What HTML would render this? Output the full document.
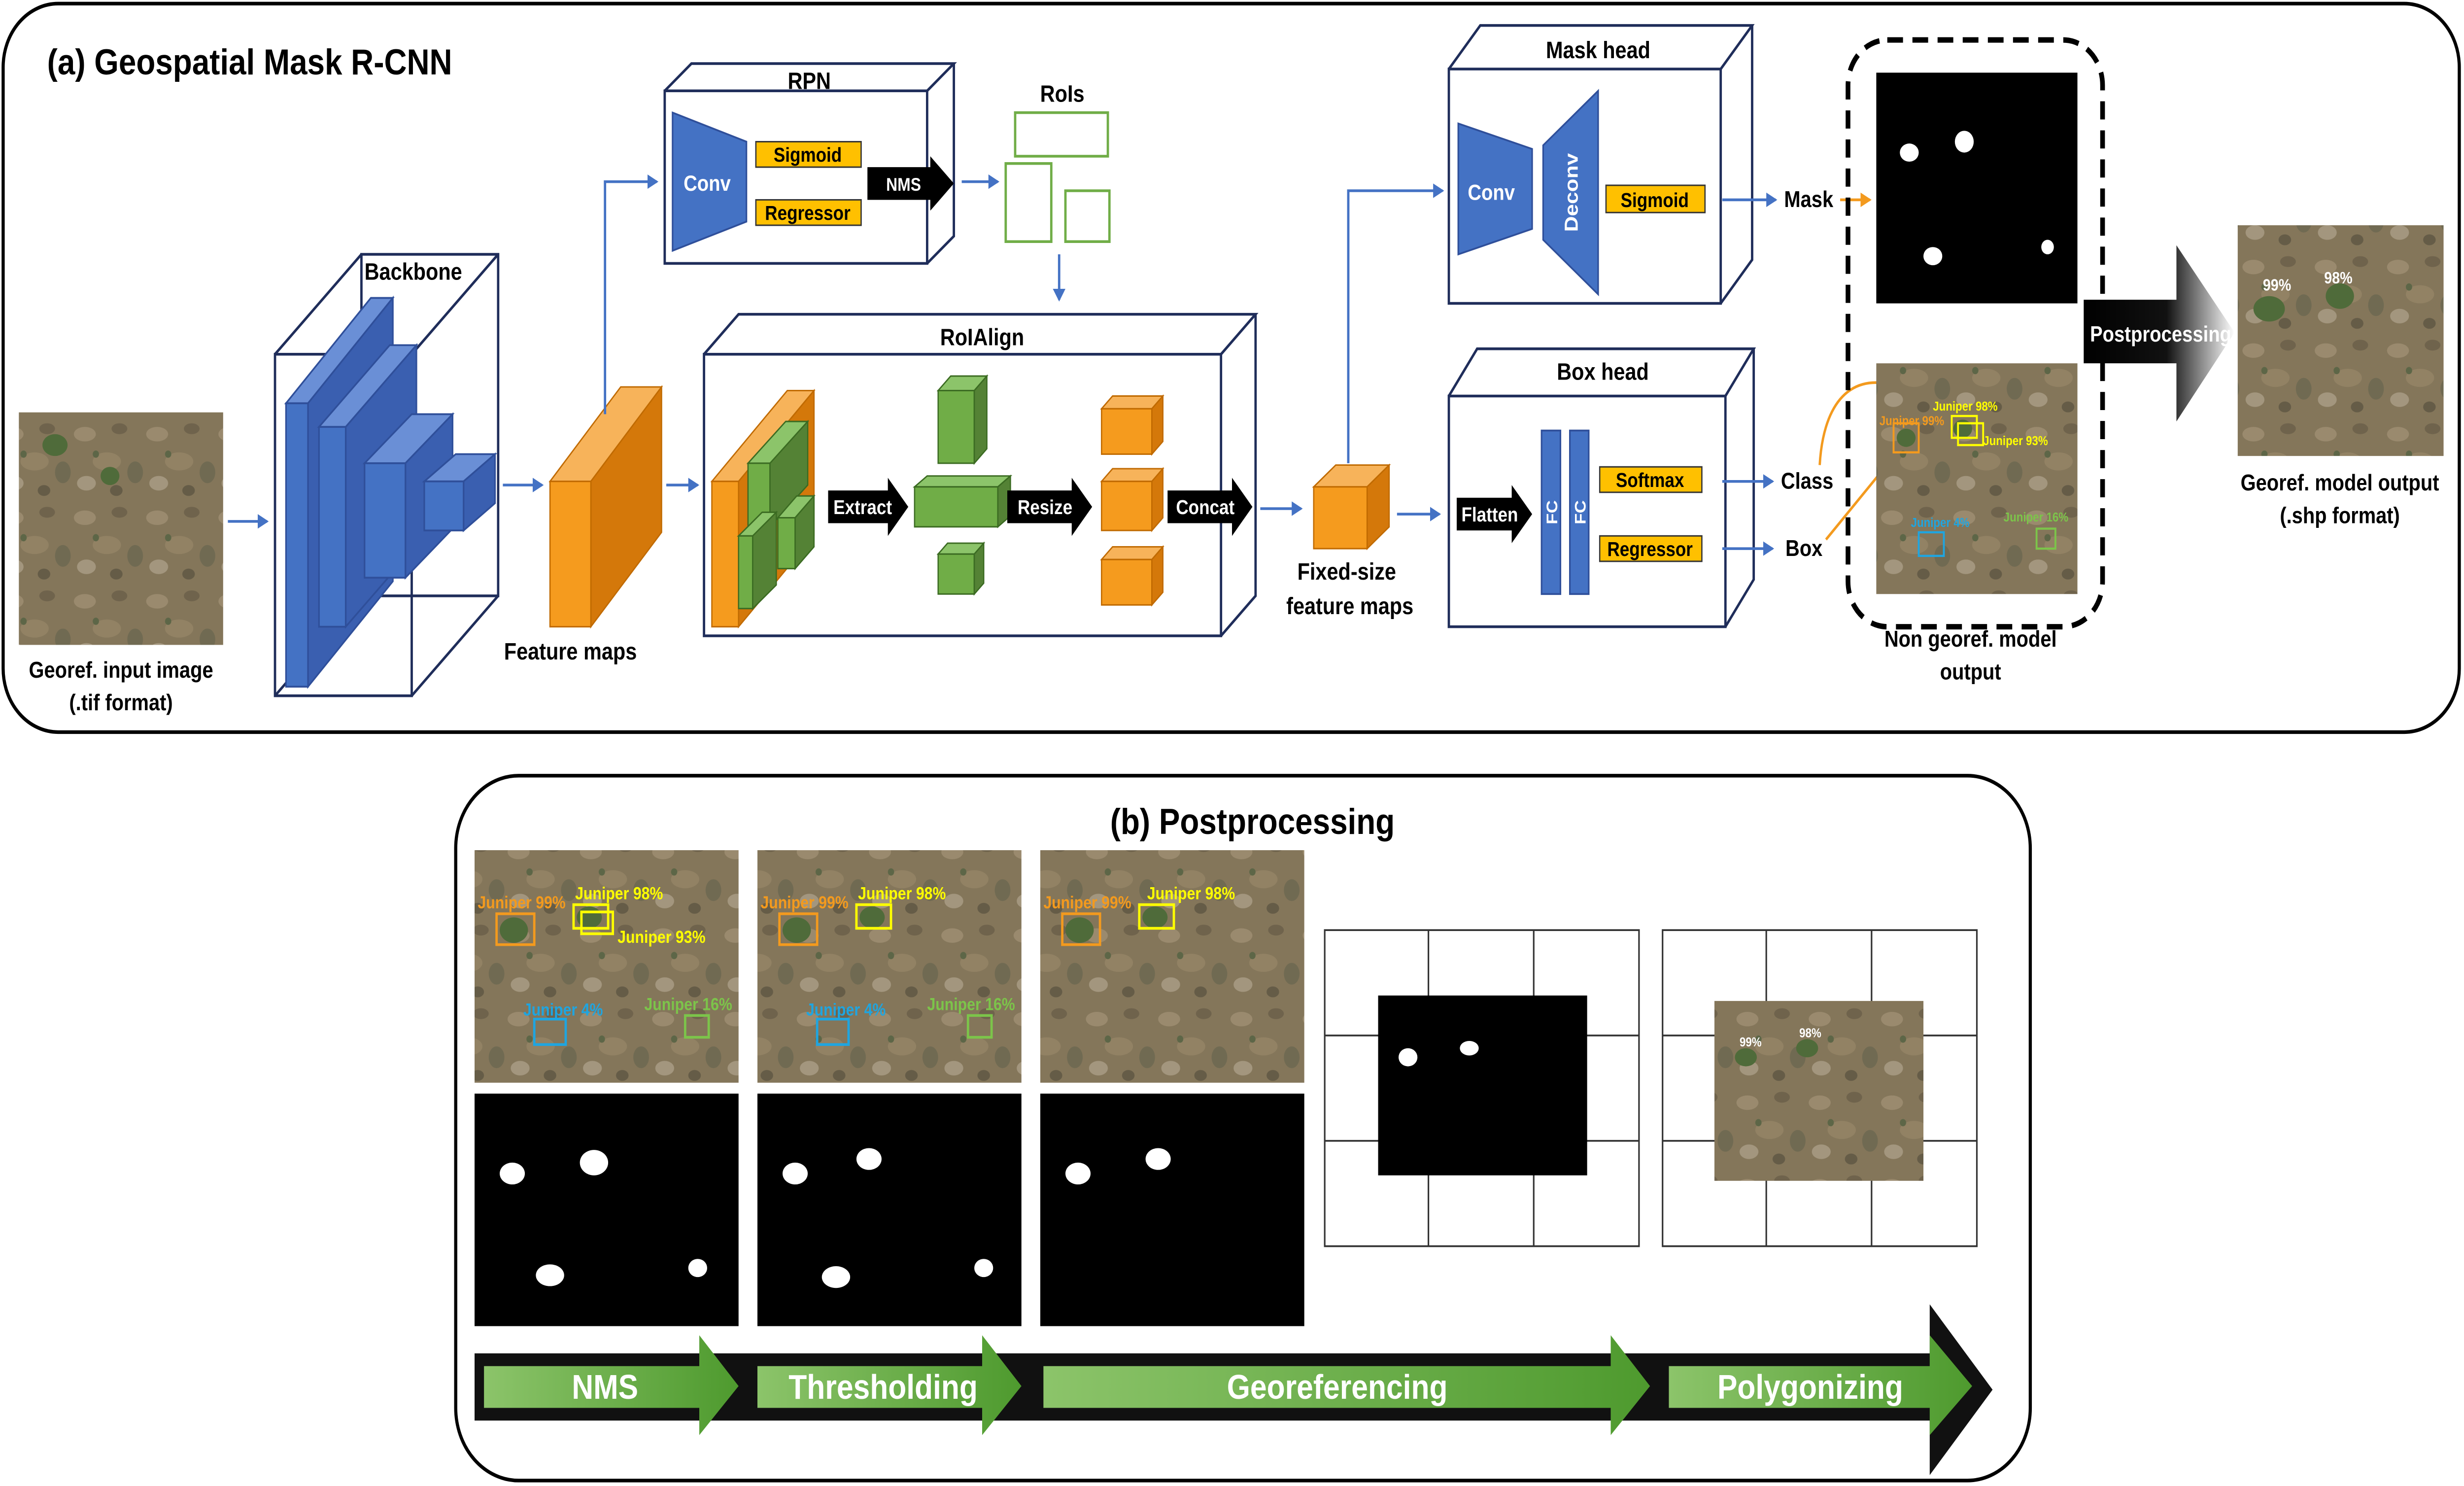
<!DOCTYPE html>
<html><head><meta charset="utf-8"><style>
html,body{margin:0;padding:0;background:#fff;width:100%;height:100%;overflow:hidden;}
svg{display:block;width:100vw;height:100vh;}
text{font-family:"Liberation Sans",sans-serif;font-weight:bold;}
</style></head><body>
<svg viewBox="0 0 1568 818" preserveAspectRatio="none" xmlns="http://www.w3.org/2000/svg">
<defs>
<pattern id="sat" width="46" height="46" patternUnits="userSpaceOnUse">
<rect width="46" height="46" fill="#84765a"/>
<ellipse cx="8" cy="9" rx="7" ry="4" fill="#9a8a6e"/>
<ellipse cx="30" cy="6" rx="5" ry="3" fill="#6f634c"/>
<ellipse cx="22" cy="24" rx="9" ry="5" fill="#928264"/>
<ellipse cx="40" cy="30" rx="5" ry="6" fill="#706a52"/>
<ellipse cx="9" cy="36" rx="6" ry="4" fill="#a3967e"/>
<ellipse cx="28" cy="40" rx="4" ry="3" fill="#655c47"/>
<circle cx="15" cy="20" r="2" fill="#5d6647"/>
</pattern>
<marker id="ab" markerWidth="8" markerHeight="8" refX="6" refY="4" orient="auto" markerUnits="userSpaceOnUse"><path d="M0,0 L7,4 L0,8 z" fill="#4472C4"/></marker>
<marker id="ao" markerWidth="8" markerHeight="8" refX="6" refY="4" orient="auto" markerUnits="userSpaceOnUse"><path d="M0,0 L7,4 L0,8 z" fill="#F39A1E"/></marker>
<linearGradient id="pg" x1="0" x2="1" y1="0" y2="0"><stop offset="0" stop-color="#000"/><stop offset="0.55" stop-color="#111"/><stop offset="1" stop-color="#fff"/></linearGradient>
<linearGradient id="gg" x1="0" x2="1"><stop offset="0" stop-color="#8cc46a"/><stop offset="1" stop-color="#4e9a2e"/></linearGradient>
</defs>

<rect x="2" y="2" width="1563" height="401" rx="35" fill="none" stroke="#000" stroke-width="2"/>
<text x="30" y="41" font-size="20">(a)  Geospatial Mask R-CNN</text>

<rect x="12" y="227" width="130" height="128" fill="url(#sat)"/>
<ellipse cx="70" cy="262" rx="6" ry="5" fill="#4f6b3a"/><ellipse cx="35" cy="245" rx="8" ry="6" fill="#4f6b3a"/>
<text x="77" y="373" font-size="12.5" text-anchor="middle">Georef. input image</text>
<text x="77" y="391" font-size="12.5" text-anchor="middle">(.tif format)</text>
<line x1="145" y1="287" x2="170" y2="287" stroke="#4472C4" stroke-width="1.5" marker-end="url(#ab)"/>

<g fill="none" stroke="#1F2D5A" stroke-width="1.5">
<rect x="175" y="195" width="87" height="188"/><rect x="230" y="140" width="87" height="188"/>
<line x1="175" y1="195" x2="230" y2="140"/><line x1="262" y1="195" x2="317" y2="140"/><line x1="262" y1="383" x2="317" y2="328"/><line x1="175" y1="383" x2="230" y2="328"/>
</g>
<g stroke="#2F4F9A" stroke-width="1">
<polygon points="182,222 236,164 250,164 196,222" fill="#6A8FD6"/><polygon points="196,222 250,164 250,320 196,378" fill="#3A5FB0"/><rect x="182" y="222" width="14" height="156" fill="#4472C4"/>
<polygon points="203,235 248,190 265,190 220,235" fill="#6A8FD6"/><polygon points="220,235 265,190 265,300 220,345" fill="#3A5FB0"/><rect x="203" y="235" width="17" height="110" fill="#4472C4"/>
<polygon points="232,255 262,228 288,228 258,255" fill="#6A8FD6"/><polygon points="258,255 288,228 288,291 258,318" fill="#3A5FB0"/><rect x="232" y="255" width="26" height="63" fill="#4472C4"/>
<polygon points="270,265 290,250 315,250 295,265" fill="#6A8FD6"/><polygon points="295,265 315,250 315,277 295,292" fill="#3A5FB0"/><rect x="270" y="265" width="25" height="27" fill="#4472C4"/>
</g>
<text x="263" y="154" font-size="13" text-anchor="middle">Backbone</text>
<line x1="320" y1="267" x2="345" y2="267" stroke="#4472C4" stroke-width="1.5" marker-end="url(#ab)"/>

<polygon points="350,265 395,213 421,213 376,265" fill="#F7B35A" stroke="#C06A00" stroke-width="0.8"/>
<polygon points="376,265 421,213 421,293 376,345" fill="#D4780A" stroke="#C06A00" stroke-width="0.8"/>
<rect x="350" y="265" width="26" height="80" fill="#F59B1E" stroke="#C06A00" stroke-width="0.8"/>
<text x="363" y="363" font-size="13" text-anchor="middle">Feature maps</text>
<polyline points="385,228 385,100 418,100" fill="none" stroke="#4472C4" stroke-width="1.5" marker-end="url(#ab)"/>
<line x1="424" y1="267" x2="444" y2="267" stroke="#4472C4" stroke-width="1.5" marker-end="url(#ab)"/>

<g fill="none" stroke="#1F2D5A" stroke-width="1.5">
<rect x="423" y="50" width="167" height="95" fill="#fff"/>
<polyline points="423,50 440,35 607,35 590,50"/><polyline points="607,35 607,130 590,145"/>
</g>
<text x="515" y="49" font-size="13" text-anchor="middle">RPN</text>
<polygon points="428,62 475,78 475,122 428,138" fill="#4472C4" stroke="#2F4F9A"/>
<text x="450" y="105" font-size="12" fill="#fff" text-anchor="middle">Conv</text>
<rect x="481" y="78" width="67" height="14" fill="#FFC000" stroke="#333" stroke-width="0.8"/><text x="514" y="89" font-size="11" text-anchor="middle">Sigmoid</text>
<rect x="481" y="110" width="67" height="14" fill="#FFC000" stroke="#333" stroke-width="0.8"/><text x="514" y="121" font-size="11" text-anchor="middle">Regressor</text>
<polygon points="552,92 592,92 592,86 607,101 592,116 592,110 552,110" fill="#000"/><text x="575" y="105" font-size="10" fill="#fff" text-anchor="middle">NMS</text>
<line x1="612" y1="100" x2="635" y2="100" stroke="#4472C4" stroke-width="1.5" marker-end="url(#ab)"/>
<text x="676" y="56" font-size="13" text-anchor="middle">RoIs</text>
<g fill="none" stroke="#70AD47" stroke-width="1.5"><rect x="646" y="62" width="59" height="24"/><rect x="640" y="90" width="29" height="43"/><rect x="678" y="105" width="28" height="28"/></g>
<line x1="674" y1="140" x2="674" y2="165" stroke="#4472C4" stroke-width="1.5" marker-end="url(#ab)"/>

<g fill="none" stroke="#1F2D5A" stroke-width="1.5">
<rect x="448" y="195" width="329" height="155"/>
<polyline points="448,195 470,173 799,173 777,195"/><polyline points="799,173 799,328 777,350"/>
</g>
<text x="625" y="190" font-size="13" text-anchor="middle">RoIAlign</text>
<polygon points="453,265 501,215 518,215 470,265" fill="#F7B35A" stroke="#C06A00" stroke-width="0.8"/>
<polygon points="470,265 518,215 518,295 470,345" fill="#D4780A" stroke="#C06A00" stroke-width="0.8"/>
<rect x="453" y="265" width="17" height="80" fill="#F59B1E" stroke="#C06A00" stroke-width="0.8"/>
<g stroke="#3b6b22" stroke-width="0.8">
<polygon points="476,255 500,232 514,232 490,255" fill="#8cc46a"/><rect x="476" y="255" width="14" height="35" fill="#70AD47"/><polygon points="490,255 514,232 514,267 490,290" fill="#548235"/>
<polygon points="470,295 485,282 494,282 479,295" fill="#8cc46a"/><rect x="470" y="295" width="9" height="40" fill="#70AD47"/><polygon points="479,295 494,282 494,322 479,335" fill="#548235"/>
<polygon points="495,285 507,273 518,273 506,285" fill="#8cc46a"/><rect x="495" y="285" width="11" height="28" fill="#70AD47"/><polygon points="506,285 518,273 518,301 506,313" fill="#548235"/>
</g>
<polygon points="527,270 565,270 565,263 578,279 565,295 565,288 527,288" fill="#000"/><text x="549" y="283" font-size="11" fill="#fff" text-anchor="middle">Extract</text>
<g stroke="#3b6b22" stroke-width="0.8">
<polygon points="597,215 605,207 628,207 620,215" fill="#8cc46a"/><rect x="597" y="215" width="23" height="40" fill="#70AD47"/><polygon points="620,215 628,207 628,247 620,255" fill="#548235"/>
<polygon points="582,268 590,262 643,262 635,268" fill="#8cc46a"/><rect x="582" y="268" width="53" height="22" fill="#70AD47"/><polygon points="635,268 643,262 643,284 635,290" fill="#548235"/>
<polygon points="597,305 603,299 626,299 620,305" fill="#8cc46a"/><rect x="597" y="305" width="23" height="22" fill="#70AD47"/><polygon points="620,305 626,299 626,321 620,327" fill="#548235"/>
</g>
<polygon points="641,270 682,270 682,263 695,279 682,295 682,288 641,288" fill="#000"/><text x="665" y="283" font-size="11" fill="#fff" text-anchor="middle">Resize</text>
<g stroke="#C06A00" stroke-width="0.8">
<polygon points="701,225 708,218 740,218 733,225" fill="#F7B35A"/><rect x="701" y="225" width="32" height="25" fill="#F59B1E"/><polygon points="733,225 740,218 740,243 733,250" fill="#D4780A"/>
<polygon points="701,265 708,258 740,258 733,265" fill="#F7B35A"/><rect x="701" y="265" width="32" height="27" fill="#F59B1E"/><polygon points="733,265 740,258 740,285 733,292" fill="#D4780A"/>
<polygon points="701,308 708,301 740,301 733,308" fill="#F7B35A"/><rect x="701" y="308" width="32" height="25" fill="#F59B1E"/><polygon points="733,308 740,301 740,326 733,333" fill="#D4780A"/>
</g>
<polygon points="743,270 784,270 784,263 797,279 784,295 784,288 743,288" fill="#000"/><text x="767" y="283" font-size="11" fill="#fff" text-anchor="middle">Concat</text>
<line x1="802" y1="280" x2="828" y2="280" stroke="#4472C4" stroke-width="1.5" marker-end="url(#ab)"/>

<g stroke="#C06A00" stroke-width="0.8">
<polygon points="836,268 850,256 884,256 870,268" fill="#F7B35A"/><rect x="836" y="268" width="34" height="34" fill="#F59B1E"/><polygon points="870,268 884,256 884,290 870,302" fill="#D4780A"/>
</g>
<text x="857" y="319" font-size="13" text-anchor="middle">Fixed-size</text>
<text x="859" y="338" font-size="13" text-anchor="middle">feature maps</text>
<polyline points="858,255 858,105 918,105" fill="none" stroke="#4472C4" stroke-width="1.5" marker-end="url(#ab)"/>
<line x1="889" y1="283" x2="916" y2="283" stroke="#4472C4" stroke-width="1.5" marker-end="url(#ab)"/>

<g fill="none" stroke="#1F2D5A" stroke-width="1.5">
<rect x="922" y="38" width="173" height="129"/>
<polyline points="922,38 942,14 1115,14 1095,38"/><polyline points="1115,14 1115,143 1095,167"/>
</g>
<text x="1017" y="32" font-size="13" text-anchor="middle">Mask head</text>
<polygon points="928,68 975,82 975,126 928,140" fill="#4472C4" stroke="#2F4F9A"/>
<text x="949" y="110" font-size="12" fill="#fff" text-anchor="middle">Conv</text>
<polygon points="982,80 1017,50 1017,162 982,132" fill="#4472C4" stroke="#2F4F9A"/>
<text x="0" y="0" font-size="12" fill="#fff" text-anchor="middle" transform="translate(1004,106) rotate(-90)">Deconv</text>
<rect x="1022" y="102" width="63" height="15" fill="#FFC000" stroke="#333" stroke-width="0.8"/><text x="1053" y="114" font-size="11" text-anchor="middle">Sigmoid</text>
<line x1="1096" y1="110" x2="1130" y2="110" stroke="#4472C4" stroke-width="1.5" marker-end="url(#ab)"/>
<text x="1151" y="114" font-size="12.5" text-anchor="middle">Mask</text>
<line x1="1171" y1="110" x2="1190" y2="110" stroke="#F39A1E" stroke-width="1.5" marker-end="url(#ao)"/>

<g fill="none" stroke="#1F2D5A" stroke-width="1.5">
<rect x="922" y="218" width="176" height="127"/>
<polyline points="922,218 940,192 1116,192 1098,218"/><polyline points="1116,192 1116,319 1098,345"/>
</g>
<text x="1020" y="209" font-size="13" text-anchor="middle">Box head</text>
<polygon points="927,274 962,274 962,267 975,283 962,299 962,292 927,292" fill="#000"/><text x="948" y="287" font-size="11" fill="#fff" text-anchor="middle">Flatten</text>
<rect x="981" y="237" width="12" height="90" fill="#4472C4" stroke="#2F4F9A"/><rect x="999" y="237" width="12" height="90" fill="#4472C4" stroke="#2F4F9A"/>
<text font-size="10" fill="#fff" text-anchor="middle" transform="translate(991,282) rotate(-90)">FC</text>
<text font-size="10" fill="#fff" text-anchor="middle" transform="translate(1009,282) rotate(-90)">FC</text>
<rect x="1018" y="257" width="65" height="14" fill="#FFC000" stroke="#333" stroke-width="0.8"/><text x="1050" y="268" font-size="11" text-anchor="middle">Softmax</text>
<rect x="1018" y="295" width="65" height="14" fill="#FFC000" stroke="#333" stroke-width="0.8"/><text x="1050" y="306" font-size="11" text-anchor="middle">Regressor</text>
<line x1="1096" y1="265" x2="1128" y2="265" stroke="#4472C4" stroke-width="1.5" marker-end="url(#ab)"/>
<line x1="1096" y1="302" x2="1128" y2="302" stroke="#4472C4" stroke-width="1.5" marker-end="url(#ab)"/>
<text x="1150" y="269" font-size="12.5" text-anchor="middle">Class</text>
<text x="1148" y="306" font-size="12.5" text-anchor="middle">Box</text>
<path d="M1158,256 C1160,225 1175,205 1205,212" fill="none" stroke="#F39A1E" stroke-width="1.5" marker-end="url(#ao)"/>
<line x1="1162" y1="297" x2="1212" y2="244" stroke="#F39A1E" stroke-width="1.5" marker-end="url(#ao)"/>

<rect x="1176" y="22" width="162" height="323" rx="25" fill="none" stroke="#000" stroke-width="3" stroke-dasharray="10,6"/>
<rect x="1194" y="40" width="128" height="127" fill="#000"/>
<g fill="#fff"><ellipse cx="1215" cy="84" rx="6" ry="5"/><ellipse cx="1250" cy="78" rx="6" ry="6"/><ellipse cx="1230" cy="141" rx="6" ry="5"/><ellipse cx="1303" cy="136" rx="4" ry="4"/></g>
<rect x="1194" y="200" width="128" height="127" fill="url(#sat)"/>
<ellipse cx="1213" cy="241" rx="6" ry="5" fill="#4f6b3a"/><ellipse cx="1249" cy="236" rx="6" ry="5" fill="#4f6b3a"/>
<rect x="1205" y="233" width="16" height="16" fill="none" stroke="#F39A1E" stroke-width="1.2"/>
<rect x="1242" y="229" width="16" height="12" fill="none" stroke="#FFFF00" stroke-width="1.2"/><rect x="1246" y="233" width="16" height="12" fill="none" stroke="#FFFF00" stroke-width="1.2"/>
<rect x="1221" y="293" width="16" height="13" fill="none" stroke="#1FA5E0" stroke-width="1.2"/>
<rect x="1296" y="291" width="12" height="11" fill="none" stroke="#7CC44A" stroke-width="1.2"/>
<g font-size="7"><text x="1230" y="226" fill="#FFFF00">Juniper 98%</text><text x="1262" y="245" fill="#FFFF00">Juniper 93%</text><text x="1196" y="234" fill="#F39A1E">Juniper 99%</text><text x="1216" y="290" fill="#1FA5E0">Juniper 4%</text><text x="1275" y="287" fill="#7CC44A">Juniper 16%</text></g>
<text x="1254" y="356" font-size="12.5" text-anchor="middle">Non georef. model</text>
<text x="1254" y="374" font-size="12.5" text-anchor="middle">output</text>

<polygon points="1326,165 1385,165 1385,135 1422,183 1385,232 1385,200 1326,200" fill="url(#pg)"/>
<text x="1375" y="188" font-size="12" fill="#fff" text-anchor="middle">Postprocessing</text>
<rect x="1424" y="124" width="131" height="127" fill="url(#sat)"/>
<ellipse cx="1444" cy="170" rx="10" ry="7" fill="#4f6b3a"/><ellipse cx="1489" cy="163" rx="9" ry="7" fill="#4f6b3a"/>
<text x="1440" y="160" font-size="9" fill="#fff">99%</text><text x="1479" y="156" font-size="9" fill="#fff">98%</text>
<text x="1489" y="270" font-size="12.5" text-anchor="middle">Georef. model output</text>
<text x="1489" y="288" font-size="12.5" text-anchor="middle">(.shp format)</text>

<rect x="290" y="427" width="1002" height="388" rx="40" fill="none" stroke="#000" stroke-width="2"/>
<text x="797" y="459" font-size="20" text-anchor="middle">(b) Postprocessing</text>

<rect x="302" y="468" width="168" height="128" fill="url(#sat)"/>
<rect x="482" y="468" width="168" height="128" fill="url(#sat)"/>
<rect x="662" y="468" width="168" height="128" fill="url(#sat)"/>
<g fill="#4f6b3a"><ellipse cx="327" cy="512" rx="9" ry="7"/><ellipse cx="375" cy="505" rx="8" ry="6"/><ellipse cx="507" cy="512" rx="9" ry="7"/><ellipse cx="555" cy="505" rx="8" ry="6"/><ellipse cx="687" cy="512" rx="9" ry="7"/><ellipse cx="735" cy="505" rx="8" ry="6"/></g>
<g fill="none" stroke-width="1.5">
<rect x="316" y="503" width="24" height="17" stroke="#F39A1E"/><rect x="365" y="498" width="22" height="13" stroke="#FFFF00"/><rect x="370" y="502" width="20" height="12" stroke="#FFFF00"/><rect x="340" y="561" width="20" height="14" stroke="#1FA5E0"/><rect x="436" y="559" width="15" height="12" stroke="#7CC44A"/>
<rect x="496" y="503" width="24" height="17" stroke="#F39A1E"/><rect x="545" y="498" width="22" height="13" stroke="#FFFF00"/><rect x="520" y="561" width="20" height="14" stroke="#1FA5E0"/><rect x="616" y="559" width="15" height="12" stroke="#7CC44A"/>
<rect x="676" y="503" width="24" height="17" stroke="#F39A1E"/><rect x="725" y="498" width="22" height="13" stroke="#FFFF00"/>
</g>
<g font-size="9.5">
<text x="304" y="500" fill="#F39A1E">Juniper 99%</text><text x="366" y="495" fill="#FFFF00">Juniper 98%</text><text x="393" y="519" fill="#FFFF00">Juniper 93%</text><text x="333" y="559" fill="#1FA5E0">Juniper 4%</text><text x="410" y="556" fill="#7CC44A">Juniper 16%</text>
<text x="484" y="500" fill="#F39A1E">Juniper 99%</text><text x="546" y="495" fill="#FFFF00">Juniper 98%</text><text x="513" y="559" fill="#1FA5E0">Juniper 4%</text><text x="590" y="556" fill="#7CC44A">Juniper 16%</text>
<text x="664" y="500" fill="#F39A1E">Juniper 99%</text><text x="730" y="495" fill="#FFFF00">Juniper 98%</text>
</g>
<rect x="302" y="602" width="168" height="128" fill="#000"/>
<rect x="482" y="602" width="168" height="128" fill="#000"/>
<rect x="662" y="602" width="168" height="128" fill="#000"/>
<g fill="#fff">
<ellipse cx="326" cy="646" rx="8" ry="6"/><ellipse cx="378" cy="640" rx="9" ry="7"/><ellipse cx="350" cy="702" rx="9" ry="6"/><ellipse cx="444" cy="698" rx="6" ry="5"/>
<ellipse cx="506" cy="646" rx="8" ry="6"/><ellipse cx="553" cy="638" rx="8" ry="6"/><ellipse cx="532" cy="703" rx="9" ry="6"/><ellipse cx="626" cy="698" rx="6" ry="5"/>
<ellipse cx="686" cy="646" rx="8" ry="6"/><ellipse cx="737" cy="638" rx="8" ry="6"/>
</g>

<g fill="none" stroke="#333" stroke-width="1">
<rect x="843" y="512" width="200" height="174"/><line x1="909" y1="512" x2="909" y2="686"/><line x1="976" y1="512" x2="976" y2="686"/><line x1="843" y1="570" x2="1043" y2="570"/><line x1="843" y1="628" x2="1043" y2="628"/>
<rect x="1058" y="512" width="200" height="174"/><line x1="1124" y1="512" x2="1124" y2="686"/><line x1="1191" y1="512" x2="1191" y2="686"/><line x1="1058" y1="570" x2="1258" y2="570"/><line x1="1058" y1="628" x2="1258" y2="628"/>
</g>
<rect x="877" y="548" width="133" height="99" fill="#000"/>
<g fill="#fff"><ellipse cx="896" cy="582" rx="6" ry="5"/><ellipse cx="935" cy="577" rx="6" ry="4"/></g>
<rect x="1091" y="551" width="133" height="99" fill="url(#sat)"/>
<ellipse cx="1111" cy="582" rx="7" ry="5" fill="#4f6b3a"/><ellipse cx="1150" cy="577" rx="7" ry="5" fill="#4f6b3a"/>
<text x="1107" y="576" font-size="7" fill="#fff">99%</text><text x="1145" y="571" font-size="7" fill="#fff">98%</text>

<polygon points="302,745 1228,745 1228,718 1268,765 1228,812 1228,782 302,782" fill="#111"/>
<g fill="url(#gg)">
<polygon points="308,752 445,752 445,735 470,763 445,790 445,775 308,775"/>
<polygon points="482,752 625,752 625,735 650,763 625,790 625,775 482,775"/>
<polygon points="664,752 1025,752 1025,735 1050,763 1025,790 1025,775 664,775"/>
<polygon points="1062,752 1228,752 1228,735 1255,763 1228,790 1228,775 1062,775"/>
</g>
<g font-size="19" fill="#fff" text-anchor="middle">
<text x="385" y="770">NMS</text><text x="562" y="770">Thresholding</text><text x="851" y="770">Georeferencing</text><text x="1152" y="770">Polygonizing</text>
</g>
</svg>
</body></html>
